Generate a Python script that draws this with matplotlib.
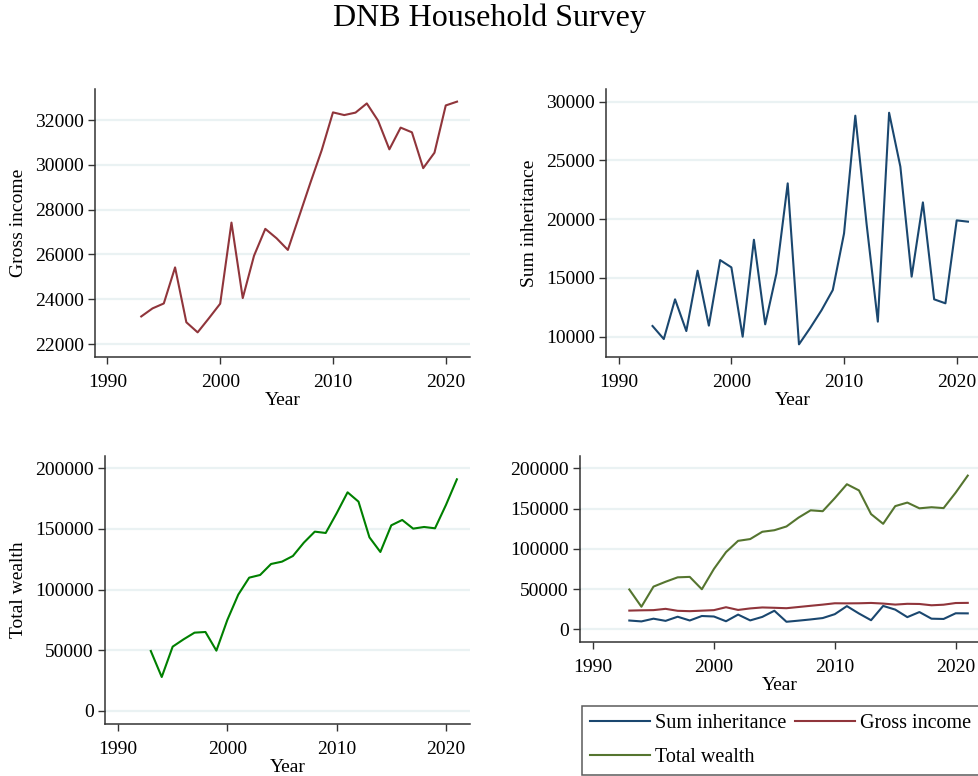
import matplotlib
matplotlib.use("Agg")
import matplotlib.pyplot as plt
from matplotlib.lines import Line2D

plt.rcParams['font.family'] = ['Liberation Serif', 'DejaVu Serif']

years = list(range(1993, 2022))

gross_income = [23230, 23590, 23810, 25420, 22970, 22520, 23150, 23800, 27420,
                24050, 25940, 27140, 26720, 26200, 27700, 29200, 30650, 32340,
                32220, 32330, 32740, 31970, 30690, 31660, 31450, 29850, 30540,
                32650, 32820]

sum_inheritance = [10910, 9800, 13180, 10480, 15620, 10940, 16520, 15900, 10000,
                   18250, 11050, 15390, 23050, 9350, 10750, 12250, 13970, 18790,
                   28810, 19600, 11280, 29060, 24470, 15110, 21430, 13180, 12840,
                   19900, 19790]

total_wealth = [49450, 28020, 53020, 59070, 64560, 65110, 49730, 75000, 95880,
                109890, 112090, 121150, 123080, 127750, 138740, 147800, 146700,
                162910, 180220, 172530, 143130, 131040, 153020, 157420, 150280,
                151650, 150550, 169780, 190930]

x_ticks = [1990, 2000, 2010, 2020]
navy = '#1A476F'
maroon = '#90353B'
green = '#008000'
forest = '#55752F'
grid_c = '#EAF2F3'
axis_c = '#333333'

W, H = 979, 776
fig = plt.figure(figsize=(W / 100, H / 100), dpi=100)


def make_axes(left, top, right, bottom):
    return fig.add_axes([left / W, 1 - bottom / H, (right - left) / W, (bottom - top) / H])


def style(ax, xlim, ylim, yticks, ylabel):
    ax.set_xlim(*xlim)
    ax.set_ylim(*ylim)
    ax.set_xticks(x_ticks)
    ax.set_yticks(yticks)
    ax.set_yticklabels([str(v) for v in yticks])
    for s in ['top', 'right']:
        ax.spines[s].set_visible(False)
    for s in ['left', 'bottom']:
        ax.spines[s].set_color(axis_c)
        ax.spines[s].set_linewidth(1.1)
    ax.tick_params(axis='both', length=5, width=1.0, color=axis_c, labelsize=14)
    ax.tick_params(axis='x', pad=7)
    ax.tick_params(axis='y', pad=3)
    ax.yaxis.grid(True, color=grid_c, linewidth=1.6)
    ax.set_axisbelow(True)
    ax.set_xlabel('Year', fontsize=14, labelpad=1)
    if ylabel:
        ax.set_ylabel(ylabel, fontsize=14, labelpad=6)


# Gross income
ax1 = make_axes(95, 89, 470, 357)
ax1.plot(years, gross_income, color=maroon, lw=1.5)
style(ax1, (1988.9, 2022.15), (21420, 33384), list(range(22000, 32001, 2000)), 'Gross income')

# Sum inheritance
ax2 = make_axes(606, 89, 979, 357)
ax2.plot(years, sum_inheritance, color=navy, lw=1.5)
style(ax2, (1988.87, 2021.98), (8272, 31081), list(range(10000, 30001, 5000)), 'Sum inheritance')

# Total wealth
ax3 = make_axes(105, 456, 470, 724)
ax3.plot(years, total_wealth, color=green, lw=1.5)
style(ax3, (1988.81, 2022.2), (-10714, 210137), list(range(0, 200001, 50000)), 'Total wealth')

# All three series together
ax4 = make_axes(580, 456, 979, 642)
ax4.plot(years, sum_inheritance, color=navy, lw=1.5)
ax4.plot(years, gross_income, color=maroon, lw=1.5)
ax4.plot(years, total_wealth, color=forest, lw=1.5)
style(ax4, (1988.92, 2021.93), (-15776, 215280), list(range(0, 200001, 50000)), None)

handles = [Line2D([], [], color=navy, lw=1.5),
           Line2D([], [], color=forest, lw=1.5),
           Line2D([], [], color=maroon, lw=1.5)]
labels = ['Sum inheritance', 'Total wealth', 'Gross income']
leg = fig.legend(handles, labels, ncol=2, loc='center',
                 bbox_to_anchor=((587 + 974) / 2 / W, 1 - (707 + 774) / 2 / H),
                 fontsize=14.5, frameon=True, fancybox=False, edgecolor=axis_c,
                 handlelength=3.0, handletextpad=0.25, columnspacing=0.4,
                 labelspacing=0.75, borderpad=0.4, borderaxespad=0)
leg.get_frame().set_linewidth(1.1)

fig.text(0.5, 1 - 18 / H, 'DNB Household Survey', ha='center', va='center', fontsize=23)

fig.savefig('out.png', dpi=100)
